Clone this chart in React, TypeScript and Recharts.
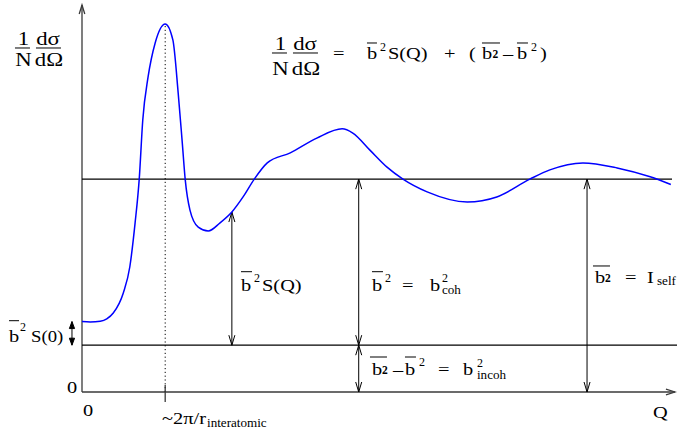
import React from 'react';
import { LineChart, Line, XAxis, YAxis, ReferenceLine, ReferenceDot } from 'recharts';

// Momentum transfer Q (arbitrary units) and the scattered intensity 1/N dσ/dΩ
const qValues = [
  0, 0.14, 0.31, 0.42, 0.53, 0.7, 0.81, 0.9, 0.97, 1.03,
  1.12, 1.24, 1.41, 1.54, 1.63, 1.7, 1.75, 1.83, 1.97, 2.14,
  2.34, 2.54, 2.73, 2.92, 3.14, 3.53, 3.98, 4.41, 4.59, 4.88,
  5.17, 5.44, 5.85, 6.53, 7.03, 7.59, 7.93, 8.49, 9.07, 9.63, 9.98,
];
const intensity = [
  1.82, 1.81, 1.83, 1.89, 2.04, 2.56, 3.23, 4.37, 5.5, 7.03,
  8.14, 9.02, 9.51, 9.1, 7.73, 6.43, 5.48, 4.7, 4.26, 4.16,
  4.37, 4.65, 5.04, 5.5, 5.92, 6.18, 6.56, 6.8, 6.69, 6.25,
  5.81, 5.5, 5.17, 4.91, 5.04, 5.5, 5.74, 5.92, 5.79, 5.56, 5.36,
];

// Characteristic levels
const cohLevel = 5.5; // b̄²  (coherent level, S(Q) -> 1)
const incohLevel = 1.21; // b²‾ − b̄²  (incoherent background)
const sZero = 1.82; // b̄² S(0)
const peakQ = 1.41; // first peak, ~2π / r_interatomic
const peakI = 9.51;

// Where the double arrows stand
const sqArrowQ = 2.54;
const sqArrowTop = 4.65;
const cohArrowQ = 4.69;
const selfArrowQ = 8.56;
const sZeroArrowQ = -0.17;

const qMax = 10;
const iMax = 10;

const data = qValues.map((q, i) => ({ q, intensity: intensity[i] }));

const FONT = '"Liberation Serif", "Times New Roman", serif';
const INK = '#000';
const AXIS = '#3a3a3a';

type TP = {
  x: number;
  y: number;
  size?: number;
  sx?: number;
  bold?: boolean;
  anchor?: 'start' | 'middle' | 'end';
  children: React.ReactNode;
};
const T = ({ x, y, size = 17, sx = 1.2, bold = false, anchor = 'start', children }: TP) => (
  <text
    transform={`translate(${x} ${y}) scale(${sx} 1)`}
    fontFamily={FONT}
    fontSize={size}
    fontWeight={bold ? 'bold' : 'normal'}
    textAnchor={anchor}
    fill={INK}
  >
    {children}
  </text>
);
const Bar = ({ x1, x2, y }: { x1: number; x2: number; y: number }) => (
  <line x1={x1} x2={x2} y1={y} y2={y} stroke={INK} strokeWidth={1} />
);

// 1/N dσ/dΩ as two stacked fractions, local origin at the left of the fraction bar
const CrossSection = ({ numY, denY }: { numY: number; denY: number }) => (
  <g>
    <T x={8.5} y={numY} size={19} anchor="middle">1</T>
    <Bar x1={0} x2={15} y={0} />
    <T x={8.5} y={denY} size={19} anchor="middle">N</T>
    <T x={33} y={numY} size={19} anchor="middle">dσ</T>
    <Bar x1={21} x2={46} y={0} />
    <T x={34} y={denY} size={19} anchor="middle">dΩ</T>
  </g>
);

const SUP = 12;
const SUB = 12.5;

const annotations: { at: [number, number]; body: React.ReactNode }[] = [
  {
    at: [-1.136, 8.889],
    body: <CrossSection numY={-2.7} denY={18.3} />,
  },
  {
    at: [3.22, 8.76],
    body: (
      <g>
        <CrossSection numY={-2.7} denY={21.6} />
        <T x={61} y={6.3}>=</T>
        <T x={95} y={6.3}>b</T>
        <Bar x1={95} x2={105} y={-10} />
        <T x={108} y={-1.5} size={SUP} sx={1}>2</T>
        <T x={116} y={6.3}>S(Q)</T>
        <T x={172} y={6.3}>+</T>
        <T x={197} y={6.3}>(</T>
        <T x={210} y={6.3}>b</T>
        <T x={220.5} y={5.3} size={11.5} sx={1} bold>2</T>
        <Bar x1={210} x2={228} y={-10} />
        <T x={231} y={6.3}>–</T>
        <T x={245} y={6.3}>b</T>
        <Bar x1={245} x2={256} y={-10} />
        <T x={259} y={-1.5} size={SUP} sx={1}>2</T>
        <T x={268} y={6.3}>)</T>
      </g>
    ),
  },
  {
    at: [-1.237, 1.292],
    body: (
      <g>
        <T x={0} y={0}>b</T>
        <Bar x1={0} x2={10} y={-21.3} />
        <T x={11} y={-11} size={SUP} sx={1}>2</T>
        <T x={22} y={0} sx={1.1}>S(0)</T>
      </g>
    ),
  },
  { at: [-0.254, -0.026], body: <T x={0} y={0}>0</T> },
  { at: [0.017, -0.62], body: <T x={0} y={0}>0</T> },
  {
    at: [1.356, -0.827],
    body: (
      <g>
        <T x={0} y={0}>~2π/r</T>
        <T x={45} y={3.2} size={SUB} sx={1.05}>interatomic</T>
      </g>
    ),
  },
  { at: [9.678, -0.672], body: <T x={0} y={0}>Q</T> },
  {
    at: [2.695, 2.61],
    body: (
      <g>
        <T x={0} y={0}>b</T>
        <Bar x1={0} x2={11} y={-19.3} />
        <T x={13} y={-9} size={SUP} sx={1}>2</T>
        <T x={21} y={0}>S(Q)</T>
      </g>
    ),
  },
  {
    at: [4.915, 2.61],
    body: (
      <g>
        <T x={0} y={0}>b</T>
        <Bar x1={0} x2={11} y={-19.3} />
        <T x={13} y={-9} size={SUP} sx={1}>2</T>
        <T x={30} y={0}>=</T>
        <T x={58} y={0}>b</T>
        <T x={70} y={-8.5} size={SUP} sx={1}>2</T>
        <T x={70} y={3.5} size={SUB} sx={1.05}>coh</T>
      </g>
    ),
  },
  {
    at: [4.881, 0.439],
    body: (
      <g>
        <Bar x1={0} x2={17} y={-18} />
        <T x={2} y={0}>b</T>
        <T x={12} y={-1} size={11.5} sx={1} bold>2</T>
        <T x={23} y={0}>–</T>
        <T x={35} y={0}>b</T>
        <Bar x1={35} x2={46} y={-18} />
        <T x={49} y={-9} size={SUP} sx={1}>2</T>
        <T x={68} y={0}>=</T>
        <T x={93} y={0}>b</T>
        <T x={107} y={-8.5} size={SUP} sx={1}>2</T>
        <T x={107} y={4} size={SUB} sx={1.05}>incoh</T>
      </g>
    ),
  },
  {
    at: [8.661, 2.817],
    body: (
      <g>
        <Bar x1={0} x2={17} y={-17} />
        <T x={2} y={0}>b</T>
        <T x={12} y={-1} size={11.5} sx={1} bold>2</T>
        <T x={32} y={0}>=</T>
        <T x={54} y={0}>I</T>
        <T x={64} y={2} size={SUB} sx={1.05}>self</T>
      </g>
    ),
  },
];

type ArrowOpts = {
  start?: boolean;
  end?: boolean;
  len?: number;
  half?: number;
  filled?: boolean;
  stroke?: string;
  width?: number;
  dash?: string;
};

const head = (tx: number, ty: number, fx: number, fy: number, len: number, half: number) => {
  const d = Math.hypot(tx - fx, ty - fy) || 1;
  const ux = (tx - fx) / d;
  const uy = (ty - fy) / d;
  const bx = tx - ux * len;
  const by = ty - uy * len;
  const px = -uy * half;
  const py = ux * half;
  return `M${bx + px},${by + py} L${tx},${ty} L${bx - px},${by - py}`;
};

const arrowShape = (o: ArrowOpts) => (p: any) => {
  const { x1, y1, x2, y2 } = p;
  const len = o.len ?? 10;
  const half = o.half ?? 3;
  const stroke = o.stroke ?? INK;
  const w = o.width ?? 1;
  return (
    <g>
      <line x1={x1} y1={y1} x2={x2} y2={y2} stroke={stroke} strokeWidth={w} strokeDasharray={o.dash} />
      {o.start && (
        <path
          d={head(x1, y1, x2, y2, len, half) + (o.filled ? ' Z' : '')}
          stroke={stroke}
          strokeWidth={w}
          fill={o.filled ? stroke : 'none'}
        />
      )}
      {o.end && (
        <path
          d={head(x2, y2, x1, y1, len, half) + (o.filled ? ' Z' : '')}
          stroke={stroke}
          strokeWidth={w}
          fill={o.filled ? stroke : 'none'}
        />
      )}
    </g>
  );
};

const seg = (
  key: string,
  a: [number, number],
  b: [number, number],
  o: ArrowOpts,
) => (
  <ReferenceLine
    key={key}
    segment={[
      { x: a[0], y: a[1] },
      { x: b[0], y: b[1] },
    ]}
    ifOverflow="visible"
    shape={arrowShape(o)}
  />
);

export default function App() {
  return (
    <div style={{ position: 'absolute', left: 0, top: 0, background: '#fff' }}>
      <LineChart
        width={677}
        height={429}
        data={data}
        margin={{ top: 5, right: 5, bottom: 37, left: 82 }}
      >
        <XAxis dataKey="q" type="number" domain={[0, qMax]} allowDataOverflow hide />
        <YAxis type="number" domain={[0, iMax]} allowDataOverflow hide />

        {/* axes */}
        {seg('xaxis', [0, 0], [qMax + 0.05, 0], { end: true, len: 9, half: 2.8, stroke: AXIS, width: 1.3 })}
        {seg('yaxis', [0, 0], [0, iMax], { end: true, len: 9, half: 2.8, stroke: AXIS, width: 1.3 })}

        {/* reference levels */}
        {seg('coh', [0, cohLevel], [qMax, cohLevel], { width: 1.1 })}
        {seg('incoh', [0, incohLevel], [qMax + 0.085, incohLevel], { width: 1.1 })}

        {/* first peak marker */}
        {seg('peak', [peakQ, 0], [peakQ, peakI], { dash: '1.2 2.6', width: 1 })}
        {seg('tick', [peakQ, 0.18], [peakQ, -0.26], { stroke: AXIS, width: 1.3 })}

        {/* double arrows */}
        {seg('sq', [sqArrowQ, sqArrowTop], [sqArrowQ, incohLevel], { start: true, end: true })}
        {seg('cohArrow', [cohArrowQ, cohLevel], [cohArrowQ, incohLevel], { start: true, end: true })}
        {seg('incohArrow', [cohArrowQ, incohLevel], [cohArrowQ, 0], { start: true, end: true })}
        {seg('selfArrow', [selfArrowQ, cohLevel], [selfArrowQ, 0], { start: true, end: true })}
        {seg('s0Arrow', [sZeroArrowQ, sZero], [sZeroArrowQ, incohLevel], {
          start: true,
          end: true,
          len: 7,
          half: 2.6,
          filled: true,
        })}

        <Line
          dataKey="intensity"
          type="monotone"
          stroke="#0000ff"
          strokeWidth={1.5}
          dot={false}
          activeDot={false}
          isAnimationActive={false}
        />

        {annotations.map((a, i) => (
          <ReferenceDot
            key={`ann${i}`}
            x={a.at[0]}
            y={a.at[1]}
            r={0}
            ifOverflow="visible"
            shape={(p: any) => <g transform={`translate(${p.cx} ${p.cy})`}>{a.body}</g>}
          />
        ))}
      </LineChart>
    </div>
  );
}
